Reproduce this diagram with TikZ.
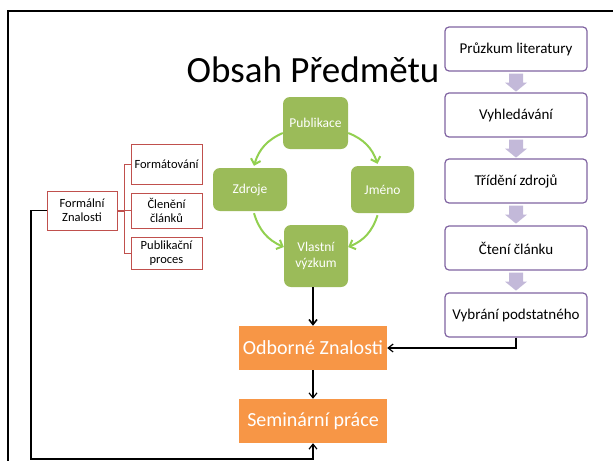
\documentclass[tikz,border=0pt]{standalone}
\usepackage{fontspec}
\setmainfont{Carlito}
\usetikzlibrary{arrows.meta}
\definecolor{lilac}{HTML}{8064A2}
\definecolor{lilacfill}{HTML}{C3B9D9}
\definecolor{leaf}{HTML}{9BBB59}
\definecolor{lime}{HTML}{92D050}
\definecolor{tangerine}{HTML}{F79646}
\definecolor{brick}{HTML}{C0504D}
\tikzset{
  stepbox/.style={draw=lilac,line width=1.2pt,rounded corners=4pt,fill=white,
    minimum width=142pt,minimum height=44pt,inner sep=1pt,font=\fontsize{15}{17}\selectfont},
  greenbox/.style={fill=leaf,rounded corners=7pt,text=white,align=center,inner sep=1pt,
    font=\fontsize{13.5}{16}\selectfont},
  orangebox/.style={fill=tangerine,text=white,minimum width=148pt,minimum height=44pt,
    inner sep=1pt,font=\fontsize{20}{22}\selectfont},
  redbox/.style={draw=brick,line width=1pt,fill=white,align=center,inner sep=1pt,
    font=\fontsize{12.5}{14}\selectfont},
  greenarrow/.style={draw=lime,line width=2pt,-{Straight Barb[length=5pt,width=10pt]}},
  flowarrow/.style={-{Straight Barb[length=5pt,width=8pt]}},
  redline/.style={draw=brick,line width=1pt}
}
\begin{document}
\begin{tikzpicture}[x=1pt,y=-1pt]
\useasboundingbox (0,0) rectangle (613,461);
\draw[line width=2.5pt] (613,11)--(8,11)--(8,461);
\node[font=\fontsize{37}{40}\selectfont,anchor=base] (title) at (313,82) {Obsah Předmětu};
% literatura
\node[stepbox] (s1) at (516,49) {Průzkum literatury};
\node[stepbox] (s2) at (516,115) {Vyhledávání};
\node[stepbox] (s3) at (516,181) {Třídění zdrojů};
\node[stepbox] (s4) at (516,248) {Čtení článku};
\node[stepbox] (s5) at (516,315) {Vybrání podstatného};
\foreach \a in {s1,s2,s3,s4}
  \fill[lilacfill] ([yshift=-2pt]\a.south) ++(-7,0) -- ++(14,0) -- ++(0,9) -- ++(4,0)
    -- ++(-11,9) -- ++(-11,-9) -- ++(4,0) -- cycle;
% cyklus
\node[greenbox,minimum width=65pt,minimum height=52pt] (pub) at (315.5,123) {Publikace};
\node[greenbox,minimum width=74pt,minimum height=43pt] (zdroje) at (250,189.5) {Zdroje};
\node[greenbox,minimum width=63pt,minimum height=47pt] (jmeno) at (382.5,189.5) {Jméno};
\node[greenbox,minimum width=64pt,minimum height=62pt] (vlastni) at (316,256) {Vlastní\\výzkum};
\draw[greenarrow] ([yshift=-10pt]pub.west) to[bend right=25] ([xshift=4pt,yshift=2pt]zdroje.north);
\draw[greenarrow] ([yshift=-10pt]pub.east) to[bend left=25] ([xshift=-5pt,yshift=2pt]jmeno.north);
\draw[greenarrow] ([xshift=4pt,yshift=-2pt]zdroje.south) to[bend right=25] ([yshift=9pt]vlastni.west);
\draw[greenarrow] ([xshift=-5pt,yshift=-2pt]jmeno.south) to[bend left=25] ([yshift=9pt]vlastni.east);
% vystup
\node[orangebox] (odb) at (313,348) {Odborné Znalosti};
\node[orangebox] (sem) at (313,421) {Seminární práce};
\draw[flowarrow,line width=1.6pt] (vlastni.south -| odb.north) -- (odb.north);
\draw[flowarrow,line width=1.2pt] (odb.south) -- (sem.north);
\draw[flowarrow,line width=1.2pt] (s5.south) |- (odb.east);
% formalni
\node[redbox,minimum width=70pt,minimum height=39pt] (formal) at (82,210.5) {Formální\\Znalosti};
\node[redbox,minimum width=71pt,minimum height=40pt] (fmt) at (166.5,164) {Formátování};
\node[redbox,minimum width=71pt,minimum height=35pt] (clen) at (166.5,210.5) {Členění\\článků};
\node[redbox,minimum width=71pt,minimum height=32pt] (proc) at (166.5,253) {Publikační\\proces};
\draw[redline,line width=2pt] (formal.east) -- ++(7,0) coordinate (bus);
\foreach \n in {fmt,clen,proc}
  \draw[redline] (bus) |- (\n.west);
\coordinate (loop) at (31,459);
\draw[flowarrow,line width=1.2pt] (formal.west) -| (loop) -| (sem.south);
\end{tikzpicture}
\end{document}
